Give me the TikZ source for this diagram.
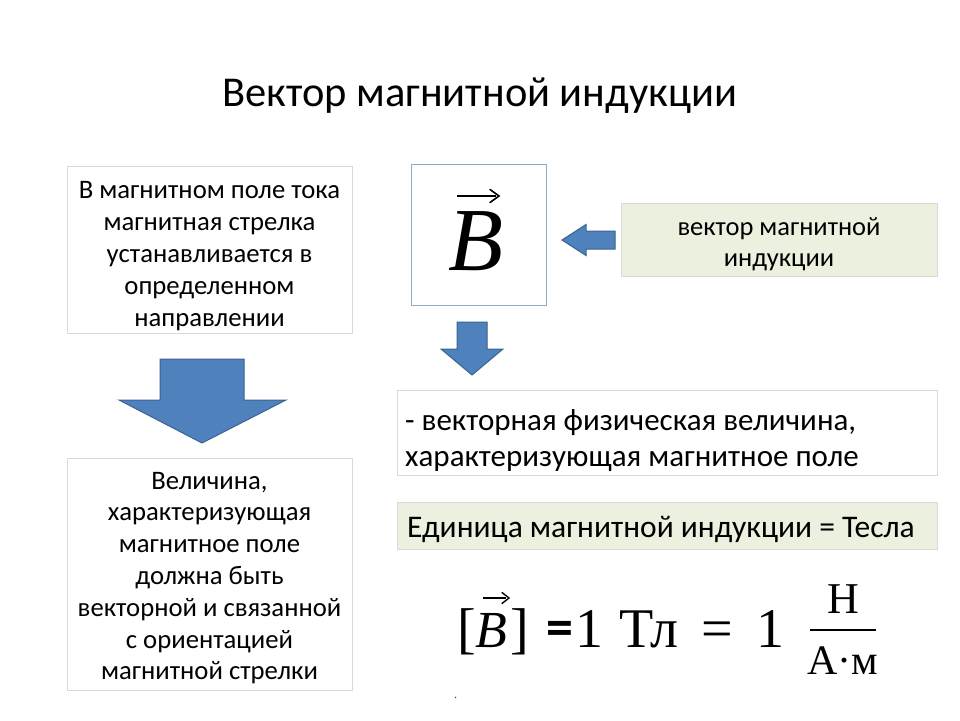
\documentclass[tikz,border=0pt]{standalone}
\usepackage{fontspec}
\setmainfont{Carlito}
\newfontfamily\formfont{Liberation Serif}
\definecolor{arrfill}{HTML}{4F81BD}
\definecolor{arrdraw}{HTML}{3A6391}
\definecolor{boxline}{HTML}{D9D9D9}
\definecolor{bline}{HTML}{8FAACB}
\definecolor{greenfill}{HTML}{ECF0DF}
\begin{document}
\begin{tikzpicture}[x=1pt,y=-1pt,
  txtbox/.style={draw=boxline,line width=0.8pt,fill=white},
  greenbox/.style={draw=boxline,line width=0.8pt,fill=greenfill},
  blockarrow/.style={fill=arrfill,draw=arrdraw,line width=1pt,line join=miter},
  body/.style={font=\fontsize{26.7}{31.8}\selectfont,align=center,inner sep=0pt},
  bodyl/.style={font=\fontsize{31}{36}\selectfont,align=left,anchor=west,inner sep=0pt},
  formula/.style={font=\formfont\fontsize{56}{56}\selectfont,anchor=base,inner sep=0pt}]
\useasboundingbox (0,0) rectangle (960,720);
\fill[white] (0,0) rectangle (960,720);
% title
\node[font=\fontsize{42.5}{48}\selectfont] (title) at (479.5,96) {Вектор магнитной индукции};
% left top box
\draw[txtbox] (67,166) rectangle (352,333);
\node[body] (lt) at (209.5,256) {В магнитном поле тока\\магнитная стрелка\\устанавливается в\\определенном\\направлении};
% big down arrow
\draw[blockarrow] (160,359) -- (244,359) -- (244,400) -- (286,400) -- (202,443) -- (119,400) -- (160,400) -- cycle;
% left bottom box
\draw[txtbox] (67,458) rectangle (352,690);
\node[body] (lb) at (209.5,578) {Величина,\\характеризующая\\магнитное поле\\должна быть\\векторной и связанной\\с ориентацией\\магнитной стрелки};
% B box
\draw[draw=bline,line width=0.8pt,fill=white] (411,164) rectangle (546,305);
\node[font=\formfont\fontsize{90}{90}\selectfont\itshape,inner sep=0pt] (B) at (476,241) {B};
\draw[line width=2.6pt] (457,196) -- (496,196);
\draw[line width=1.6pt,line cap=round] (490,189.5) -- (499,196) -- (490,202.5);
% left arrow
\draw[blockarrow] (615,231) -- (586,231) -- (586,224.5) -- (562,240) -- (586,255.5) -- (586,249) -- (615,249) -- cycle;
% green right box
\draw[greenbox] (621,203) rectangle (937,276);
\node[font=\fontsize{26.5}{31}\selectfont,align=center,inner sep=0pt] (vm) at (779,244.5) {вектор магнитной\\индукции};
% small down arrow
\draw[blockarrow] (457,322) -- (487,322) -- (487,349) -- (503,349) -- (472,375) -- (441,349) -- (457,349) -- cycle;
% definition box
\draw[txtbox] (397,390) rectangle (937,475);
\node[bodyl] (def) at (405,441) {- векторная физическая величина,\\характеризующая магнитное поле};
% unit box
\draw[greenbox] (397,502) rectangle (937,549);
\node[bodyl,font=\fontsize{31.5}{36}\selectfont] (unit) at (407,529) {Единица магнитной индукции = Тесла};
% formula
\node[formula] (lb1) at (466.5,647) {[};
\node[formula,font=\formfont\fontsize{52}{52}\selectfont\itshape] (fB) at (491,647) {B};
\node[formula] (rb1) at (520,647) {]};
\draw[line width=2.4pt] (483,598) -- (506,598);
\draw[line width=1.4pt,line cap=round] (502,592.5) -- (509,598) -- (502,603.5);
\node[formula,font=\fontsize{54}{54}\selectfont\bfseries] (eq1) at (560,645) {=};
\node[formula] (one1) at (589,647) {1};
\node[formula] (tl) at (649,647) {Тл};
\node[formula] (eq2) at (717.5,647) {=};
\node[formula] (one2) at (770,647) {1};
\node[font=\formfont\fontsize{44}{44}\selectfont,inner sep=0pt] (num) at (843,599) {Н};
\draw[line width=1.7pt] (810,630) -- (876,630);
\node[font=\formfont\fontsize{42}{42}\selectfont,inner sep=0pt] (den) at (843,661) {А·м};
% small dot
\fill[black!70] (455.5,697.5) circle (0.9);
\end{tikzpicture}
\end{document}
